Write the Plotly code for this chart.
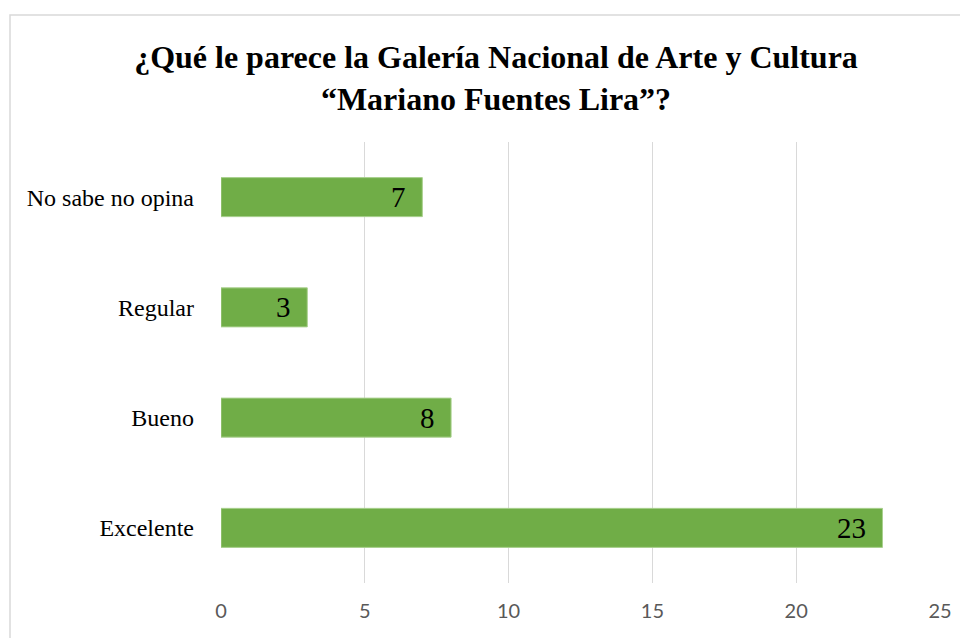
import plotly.graph_objects as go

categories = ["Excelente", "Bueno", "Regular", "No sabe no opina"]
values = [23, 8, 3, 7]
x_ticks = [0, 5, 10, 15, 20, 25]
title_text = "¿Qué le parece la Galería Nacional de Arte y Cultura<br>“Mariano Fuentes Lira”?"

W, H = 968, 638
OFF = 8  # page body margin offset
ML, MR, MT, MB = 221 - OFF, 28 + OFF, 142 - OFF, 55 + OFF
pw, ph = W - ML - MR, H - MT - MB

fig = go.Figure()
fig.add_trace(go.Bar(
    x=values, y=categories, orientation="h",
    marker=dict(color="#70AD47", line=dict(color="#A9D08E", width=1)),
    hoverinfo="skip",
))

for c, v in zip(categories, values):
    fig.add_annotation(x=v, y=c, text=str(v), showarrow=False,
                       xanchor="right", yanchor="middle", xshift=-14, yshift=0,
                       font=dict(family="Liberation Serif", size=29, color="#000000"))

# chart border (light gray), partly cropped as in the reference
bx0 = (10 - OFF - ML) / pw
bx1 = (W + 20 - ML) / pw
by1 = (H - MB - (15 - OFF)) / ph
by0 = -(MB + 20) / ph
fig.add_shape(type="rect", xref="paper", yref="paper", x0=bx0, x1=bx1, y0=by0, y1=by1,
              line=dict(color="#D9D9D9", width=1.5), fillcolor="rgba(0,0,0,0)", layer="below")

fig.update_layout(
    width=W, height=H,
    margin=dict(l=ML, r=MR, t=MT, b=MB, pad=0),
    paper_bgcolor="white", plot_bgcolor="white",
    bargap=0.646,
    showlegend=False,
    title=dict(text=title_text, x=(496 - OFF) / W, xanchor="center", xref="container",
               y=1 - 60 / H, yanchor="top", yref="container",
               font=dict(family="Liberation Serif", size=32, color="#000000", weight="bold")),
    xaxis=dict(range=[0, 25], tickvals=x_ticks, showgrid=True, gridcolor="#D9D9D9", gridwidth=1.3,
               zeroline=False, showline=False, ticks="", ticklabelstandoff=14,
               tickfont=dict(family="Lato", size=20, color="#595959"), fixedrange=True),
    yaxis=dict(showgrid=False, zeroline=False, showline=False, ticks="",
               ticklabelstandoff=26,
               tickfont=dict(family="Liberation Serif", size=24, color="#000000"), fixedrange=True),
)

fig.write_html("out.html")
